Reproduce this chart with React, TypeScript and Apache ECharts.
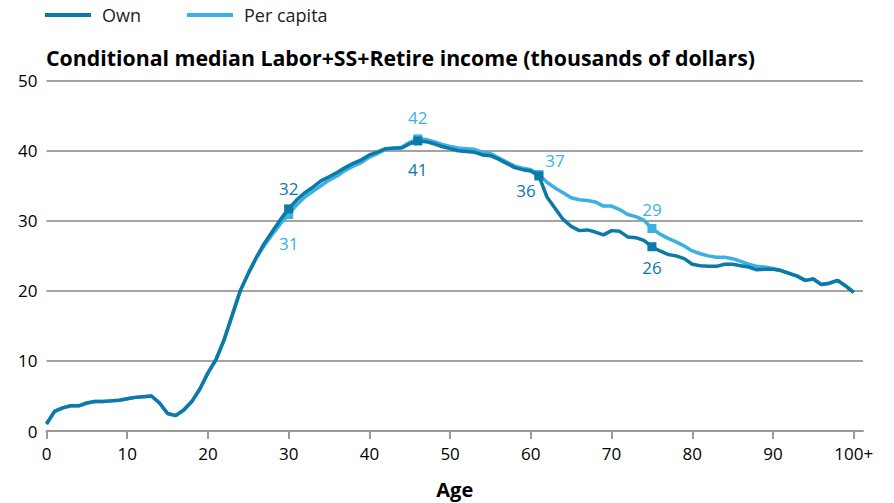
import React, { useEffect, useRef } from "react";
import * as echarts from "echarts";

const ages = [
  0, 1, 2, 3, 4, 5, 6, 7, 8, 9, 10, 11, 12, 13, 14, 15, 16, 17, 18, 19, 20,
  21, 22, 23, 24, 25, 26, 27, 28, 29, 30, 31, 32, 33, 34, 35, 36, 37, 38, 39, 40,
  41, 42, 43, 44, 45, 46, 47, 48, 49, 50, 51, 52, 53, 54, 55, 56, 57, 58, 59, 60,
  61, 62, 63, 64, 65, 66, 67, 68, 69, 70, 71, 72, 73, 74, 75, 76, 77, 78, 79, 80,
  81, 82, 83, 84, 85, 86, 87, 88, 89, 90, 91, 92, 93, 94, 95, 96, 97, 98, 99, 100,
];

const own = [
  1.0, 2.8, 3.3, 3.6, 3.6, 4.0, 4.2, 4.2, 4.3, 4.4, 4.6,
  4.8, 4.9, 5.0, 4.0, 2.5, 2.2, 3.0, 4.2, 6.0, 8.3,
  10.2, 13.0, 16.5, 20.0, 22.5, 24.8, 26.8, 28.5, 30.2, 31.7,
  33.0, 34.0, 34.8, 35.7, 36.3, 36.9, 37.6, 38.2, 38.7, 39.4,
  39.8, 40.3, 40.4, 40.4, 41.0, 41.4, 41.3, 41.0, 40.6, 40.3,
  40.0, 39.9, 39.8, 39.4, 39.3, 38.8, 38.2, 37.6, 37.3, 37.1,
  36.4, 33.4, 31.8, 30.2, 29.2, 28.6, 28.7, 28.4, 28.0, 28.6,
  28.5, 27.7, 27.6, 27.2, 26.3, 25.7, 25.2, 25.0, 24.6, 23.8,
  23.6, 23.5, 23.5, 23.8, 23.8, 23.6, 23.4, 23.0, 23.1, 23.1,
  22.9, 22.5, 22.1, 21.5, 21.7, 20.9, 21.1, 21.5, 20.7, 19.8,
];

const perCapita = [
  1.0, 2.8, 3.3, 3.6, 3.6, 4.0, 4.2, 4.2, 4.3, 4.4, 4.6,
  4.8, 4.9, 5.0, 4.0, 2.5, 2.2, 3.0, 4.2, 6.0, 8.3,
  10.2, 13.0, 16.5, 20.0, 22.5, 24.7, 26.5, 28.1, 29.6, 30.9,
  32.3, 33.4, 34.2, 35.0, 35.8, 36.4, 37.2, 37.8, 38.3, 39.1,
  39.6, 40.2, 40.3, 40.5, 41.2, 41.7, 41.6, 41.3, 40.9, 40.6,
  40.4, 40.3, 40.2, 39.8, 39.6, 39.0, 38.4, 37.8, 37.5, 37.3,
  36.6, 35.5, 34.7, 34.0, 33.3, 33.0, 32.9, 32.7, 32.1, 32.1,
  31.6, 30.9, 30.6, 30.1, 28.9, 28.1, 27.5, 27.0, 26.4, 25.7,
  25.3, 25.0, 24.8, 24.8, 24.6, 24.2, 23.8, 23.5, 23.4, 23.2,
  22.9, 22.5, 22.1, 21.5, 21.7, 20.9, 21.1, 21.5, 20.7, 19.8,
];

const xTicks = [0, 10, 20, 30, 40, 50, 60, 70, 80, 90, 100];
const markedAges = [30, 46, 61, 75];

const seriesNames = ["Own", "Per capita"];
const titleText = "Conditional median Labor+SS+Retire income (thousands of dollars)";
const xAxisName = "Age";

const OWN_COLOR = "#0c79a9";
const PC_COLOR = "#3bb1e3";
const FONT = "'Open Sans', sans-serif";

const ownOffsets: Record<number, [number, number]> = {
  30: [0, -20],
  46: [0, 29],
  61: [-13, 15],
  75: [0, 21],
};
const pcOffsets: Record<number, [number, number]> = {
  30: [0, 29],
  46: [0, -21],
  61: [16, -14],
  75: [0, -19],
};

function buildData(values: number[], offsets: Record<number, [number, number]>, color: string) {
  return ages.map((a, i) => {
    const v: [number, number] = [a, values[i]];
    if (markedAges.includes(a)) {
      return {
        value: v,
        symbol: "rect",
        symbolSize: 9,
        label: {
          show: true,
          position: "inside",
          offset: offsets[a],
          color,
          fontSize: 17,
          fontFamily: FONT,
          formatter: (p: any) => String(Math.round(p.value[1])),
        },
      };
    }
    return { value: v, symbol: "none" };
  });
}

export default function App() {
  const ref = useRef<HTMLDivElement>(null);
  useEffect(() => {
    if (!ref.current) return;
    const chart = echarts.init(ref.current, null, { renderer: "svg" });
    const option: any = {
      animation: false,
      backgroundColor: "#ffffff",
      textStyle: { fontFamily: FONT },
      title: {
        text: titleText,
        left: 41,
        top: 42,
        textStyle: { fontFamily: FONT, fontWeight: "bold", fontSize: 21.3, color: "#000" },
      },
      legend: {
        data: seriesNames,
        left: 40,
        top: 1,
        icon: "rect",
        itemWidth: 46,
        itemHeight: 4,
        itemGap: 46,
        textStyle: { fontFamily: FONT, fontSize: 18, color: "#222", padding: [0, 0, 0, 6] },
      },
      grid: { left: 46.5, right: 31, top: 80.7, bottom: 72, outerBoundsMode: "none", containLabel: false },
      xAxis: {
        type: "value",
        min: 0,
        max: 101.15,
        name: xAxisName,
        nameLocation: "middle",
        nameGap: 48,
        nameTextStyle: { fontFamily: FONT, fontWeight: "bold", fontSize: 20, color: "#000" },
        axisLine: { show: true, lineStyle: { color: "#9a9a9a", width: 2 } },
        axisTick: {
          show: true,
          customValues: xTicks,
          length: 8,
          lineStyle: { color: "#9a9a9a", width: 2 },
        },
        axisLabel: {
          customValues: xTicks,
          margin: 14,
          fontFamily: FONT,
          fontSize: 17,
          color: "#000",
          formatter: (v: number) => (v === 100 ? "100+" : String(v)),
        },
        splitLine: { show: false },
      },
      yAxis: {
        type: "value",
        min: 0,
        max: 50,
        interval: 10,
        axisLine: { show: false },
        axisTick: { show: false },
        axisLabel: { margin: 9, fontFamily: FONT, fontSize: 17, color: "#000" },
        splitLine: { show: true, lineStyle: { color: "#a3a3a3", width: 2 } },
      },
      series: [
        {
          name: "Per capita",
          type: "line",
          data: buildData(perCapita, pcOffsets, PC_COLOR),
          showSymbol: true,
          symbol: "none",
          color: PC_COLOR,
          lineStyle: { width: 3.5, color: PC_COLOR },
          itemStyle: { color: PC_COLOR },
          z: 2,
        },
        {
          name: "Own",
          type: "line",
          data: buildData(own, ownOffsets, OWN_COLOR),
          showSymbol: true,
          symbol: "none",
          color: OWN_COLOR,
          lineStyle: { width: 3.5, color: OWN_COLOR },
          itemStyle: { color: OWN_COLOR },
          z: 3,
        },
      ],
    };
    chart.setOption(option);
    return () => chart.dispose();
  }, []);
  return (
    <div
      ref={ref}
      style={{ position: "fixed", left: 0, top: 0, width: 894, height: 503 }}
    />
  );
}
